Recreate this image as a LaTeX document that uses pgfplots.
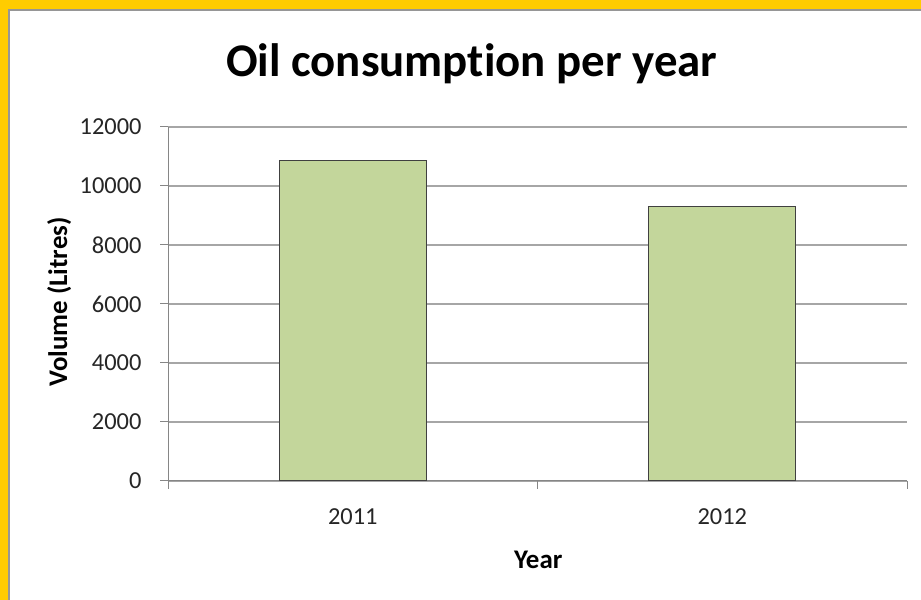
\documentclass[border=0pt]{standalone}
\usepackage{fontspec}
\setmainfont{Carlito}[Ligatures=NoCommon]
\usepackage{pgfplots}
\pgfplotsset{compat=1.18}
\definecolor{gold}{HTML}{FFCC00}
\definecolor{bargreen}{HTML}{C3D69B}
\definecolor{framegray}{HTML}{969696}
\definecolor{axgray}{HTML}{868686}
\begin{document}
\begin{tikzpicture}[x=1bp,y=1bp]
\useasboundingbox (0,0) rectangle (921,600);
\fill[white] (0,0) rectangle (921,600);
\fill[gold] (0,591) rectangle (921,600);
\fill[gold] (0,0) rectangle (7.5,600);
\draw[framegray, line width=2bp] (9,0) -- (9,589.5) -- (921,589.5);
\begin{axis}[
  at={(168bp,119bp)}, anchor=south west, scale only axis,
  width=739bp, height=354bp,
  xmin=-0.5, xmax=1.5, ymin=0, ymax=12000,
  ytick={0,2000,...,12000},
  xtick={0,1}, xticklabels={2011,2012},
  minor xtick={-0.5,0.5,1.5},
  x tick style={draw=none},
  minor x tick style={draw=axgray, line width=1bp},
  y tick style={draw=axgray, line width=1bp},
  tick align=outside,
  major tick length=8bp, minor tick length=8bp,
  axis x line*=bottom, axis y line*=left,
  axis line style={draw=axgray, line width=1bp},
  ymajorgrids,
  grid style={draw=gray!70, line width=1.2bp},
  /pgf/number format/assume math mode=true,
  /pgf/number format/1000 sep={},
  scaled y ticks=false,
  tick label style={font=\fontsize{24.5}{24.5}\selectfont, text=black!85},
  yticklabel style={xshift=-15bp},
  xticklabel style={yshift=-16bp},
  ylabel={Volume (Litres)},
  ylabel style={at={(axis description cs:-0.1365,0.5057)}, anchor=base, rotate=0, font=\bfseries\fontsize{27}{27}\selectfont},
  xlabel={Year},
  xlabel style={at={(axis description cs:0.501,-0.2458)}, anchor=base, font=\bfseries\fontsize{27}{27}\selectfont},
  title={Oil consumption per year},
  title style={at={(axis description cs:0.411,1.127)}, anchor=base, font=\bfseries\fontsize{47}{47}\selectfont},
]
\addplot[ybar, bar width=147bp, fill=bargreen, draw=black!75, line width=1bp]
  coordinates {(0,10880) (1,9300)};
\end{axis}
\end{tikzpicture}
\end{document}
